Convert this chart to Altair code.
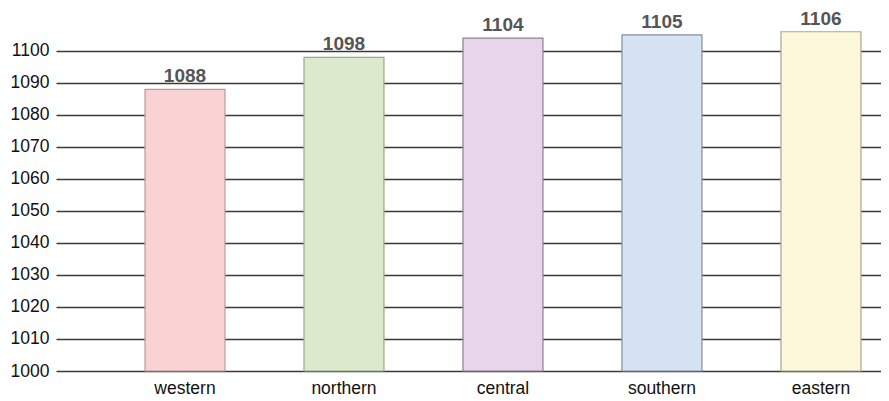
import altair as alt
import pandas as pd

regions = ["western", "northern", "central", "southern", "eastern"]
values = [1088, 1098, 1104, 1105, 1106]
fills = ["#f9d2d4", "#dbe9cc", "#e8d5ea", "#d5e3f2", "#fbf9d9"]
strokes = ["#b89a9c", "#97ab88", "#8f7f93", "#7f8ea3", "#aaa78e"]
tick_values = [1000, 1010, 1020, 1030, 1040, 1050, 1060, 1070, 1080, 1090, 1100]

df = pd.DataFrame({"region": regions, "value": values, "fill": fills, "stroke": strokes})

x = alt.X("region:N", sort=regions, title=None,
          scale=alt.Scale(paddingInner=0.497, paddingOuter=0.343, align=0.816),
          axis=alt.Axis(labelAngle=0, labelFontSize=17.5, labelColor="#111",
                        labelFont="Liberation Sans", ticks=False, domain=False,
                        labelPadding=8, grid=False))
y = alt.Y("value:Q", title=None,
          scale=alt.Scale(domain=[1000, 1112.8], nice=False, zero=False),
          axis=alt.Axis(values=tick_values, labelFontSize=17.5, labelColor="#111",
                        labelFont="Liberation Sans", ticks=False, domain=False,
                        labelOverlap=False, labelPadding=7, grid=True,
                        gridColor="#3a3a3a", gridWidth=1.4, format="d"))

base = alt.Chart(df).encode(x=x, y=y)

bars = base.mark_bar(strokeWidth=1.2).encode(
    y2=alt.datum(1000),
    fill=alt.Fill("fill:N", scale=None),
    stroke=alt.Stroke("stroke:N", scale=None),
)

labels = base.mark_text(fontSize=19, fontWeight="bold", color="#555555",
                        font="Liberation Sans", baseline="alphabetic", dy=-7).encode(
    text=alt.Text("value:Q", format="d"),
)

chart = alt.layer(bars, labels).properties(
    width=825, height=361,
    background="white",
    autosize=alt.AutoSizeParams(type="none"),
    padding={"left": 48, "top": 2, "right": 0, "bottom": 30},
).configure_view(strokeWidth=0, stroke=None)

chart.save("out.html", embed_options={"renderer": "svg", "actions": False})
